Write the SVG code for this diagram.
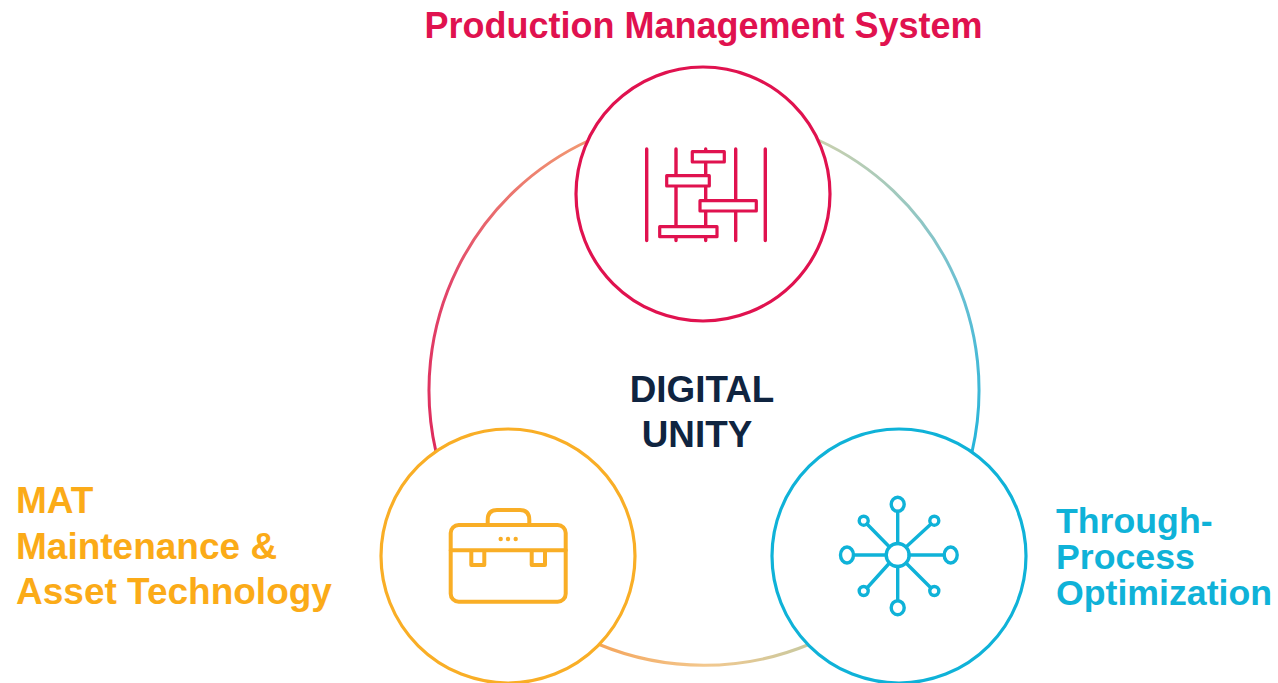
<svg xmlns="http://www.w3.org/2000/svg" width="1278" height="683" viewBox="0 0 1278 683">
<style>
text{font-family:"Liberation Sans",Arial,sans-serif;font-weight:700}
.ring{fill:none;stroke-width:3}
.node{fill:#fff;stroke-width:3.2}
.ic{fill:none;stroke-width:3.4;stroke-linecap:round;stroke-linejoin:round}
.icw{fill:#fff;stroke-width:3.2;stroke-linejoin:round}
.brief{stroke-width:4}
.red{stroke:#e0124f}.org{stroke:#f9ae26}.blu{stroke:#0fb2d8}
</style>
<defs>
<linearGradient id="gL" gradientUnits="userSpaceOnUse" x1="590" y1="140" x2="432" y2="450"><stop offset="0" stop-color="#f29a72"/><stop offset=".55" stop-color="#e2476a"/><stop offset="1" stop-color="#de2a5c"/></linearGradient>
<linearGradient id="gR" gradientUnits="userSpaceOnUse" x1="820" y1="140" x2="975" y2="450"><stop offset="0" stop-color="#c9d0ae"/><stop offset=".55" stop-color="#6cc0d2"/><stop offset="1" stop-color="#25b4da"/></linearGradient>
<linearGradient id="gB" gradientUnits="userSpaceOnUse" x1="600" y1="650" x2="810" y2="650"><stop offset="0" stop-color="#f4a55c"/><stop offset=".5" stop-color="#f3c88e"/><stop offset="1" stop-color="#c7c9a0"/></linearGradient>
</defs>
<g id="connectors">
<path class="ring" stroke="url(#gL)" d="M590 140A275 275 0 0 0 436 452"/>
<path class="ring" stroke="url(#gR)" d="M818 140A275 275 0 0 1 972 452"/>
<path class="ring" stroke="url(#gB)" d="M598 644A275 275 0 0 0 810 644"/>
</g>
<g id="node-production">
<circle class="node red" cx="703" cy="194" r="127"/>
<path class="ic red" d="M646.700 149V240.500M676 149V240.500M705.700 149V240.500M735.700 149V240.500M765.300 149V240.500"/>
<rect class="icw red" x="692.300" y="151.700" width="32" height="10.300"/>
<rect class="icw red" x="666.700" y="175.700" width="42.600" height="10.300"/>
<rect class="icw red" x="700" y="200.700" width="56.300" height="10.300"/>
<rect class="icw red" x="659.700" y="226.700" width="57.300" height="10"/>
<text x="703.500" y="38" font-size="36" fill="#e0124f" text-anchor="middle">Production Management System</text>
</g>
<g id="node-mat">
<circle class="node org" cx="508" cy="556" r="127"/>
<rect class="ic org brief" x="450.700" y="525" width="115" height="76.700" rx="8"/>
<path class="ic org brief" d="M487.700 525V520Q487.700 510 497 510H520Q529.300 510 529.300 520V525M450.700 550.300H565.700M471.300 550.300V565H484.300V550.300M531.700 550.300V565H545V550.300"/>
<circle cx="500.700" cy="539" r="2.200" fill="#f9ae26"/><circle cx="508" cy="539" r="2.200" fill="#f9ae26"/><circle cx="515.700" cy="539" r="2.200" fill="#f9ae26"/>
<text font-size="37" fill="#fbab18"><tspan x="16" y="513">MAT</tspan><tspan x="16" y="559">Maintenance &amp;</tspan><tspan x="16" y="604">Asset Technology</tspan></text>
</g>
<g id="node-optimization">
<circle class="node blu" cx="899" cy="556" r="127"/>
<path class="ic blu" d="M897.700 511.500V543.500M897.700 566.500V600.500M853.500 555H886M909 555H944M867 524L889.500 547M931 524L906 547M867 588L889.500 563M931 588L906 563"/>
<circle class="ic blu" cx="897.700" cy="555" r="11.500"/>
<ellipse class="ic blu" cx="897.700" cy="504.300" rx="6.500" ry="7"/>
<ellipse class="ic blu" cx="897.700" cy="607.700" rx="6.500" ry="7"/>
<ellipse class="ic blu" cx="847" cy="555" rx="6.500" ry="8"/>
<ellipse class="ic blu" cx="950.700" cy="555" rx="6.500" ry="8"/>
<circle class="ic blu" cx="863.700" cy="520.700" r="4.500"/>
<circle class="ic blu" cx="934.300" cy="520.700" r="4.500"/>
<circle class="ic blu" cx="863.700" cy="591" r="4.500"/>
<circle class="ic blu" cx="934.300" cy="591" r="4.500"/>
<text font-size="35.700" fill="#0fb2d8"><tspan x="1056" y="533">Through-</tspan><tspan x="1056" y="569">Process</tspan><tspan x="1056" y="605">Optimization</tspan></text>
</g>
<g id="node-digital-unity">
<text font-size="36.800" fill="#0f2440" text-anchor="middle"><tspan x="702" y="402">DIGITAL</tspan><tspan x="697" y="447">UNITY</tspan></text>
</g>
</svg>
